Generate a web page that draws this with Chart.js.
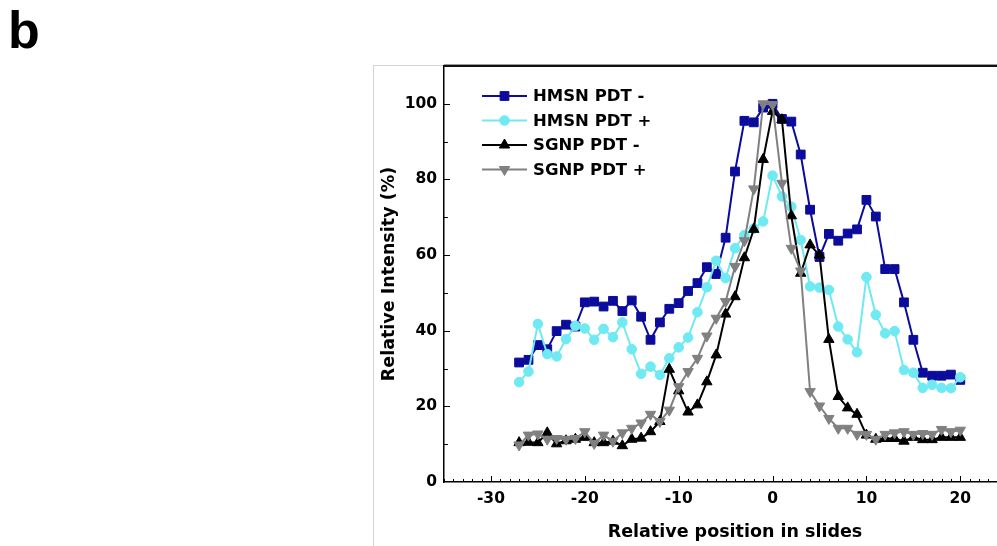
<!DOCTYPE html>
<html>
<head>
<meta charset="utf-8">
<script src="https://cdn.jsdelivr.net/npm/chart.js@4/dist/chart.umd.min.js"></script>
<style>
  html, body { margin: 0; padding: 0; background: #fff; overflow: hidden; }
  #wrap { position: relative; width: 997px; height: 546px; overflow: hidden; }
  #panel-label { position: absolute; left: 8px; top: 0px; font: bold 52px "Liberation Sans", Arial, sans-serif; color: #000; }
  #panel { position: absolute; left: 373px; top: 65px; width: 700px; height: 500px; border-left: 1px solid #d4d4d4; border-top: 1px solid #d4d4d4; }
  #chart { position: absolute; left: 0; top: 0; }
</style>
</head>
<body>
<div id="wrap">
  <div id="panel-label">b</div>
  <div id="panel"></div>
  <canvas id="chart" width="1034" height="546"></canvas>
</div>
<script>
// slide positions relative to the peak
var positions = [-27, -26, -25, -24, -23, -22, -21, -20, -19, -18, -17, -16, -15, -14, -13, -12,
  -11, -10, -9, -8, -7, -6, -5, -4, -3, -2, -1, 0, 1, 2, 3, 4,
  5, 6, 7, 8, 9, 10, 11, 12, 13, 14, 15, 16, 17, 18, 19, 20];

var hmsnMinus = [31.6, 32.3, 36.2, 35.1, 39.9, 41.6, 41.1, 47.5, 47.7, 46.4, 47.9, 45.2, 48.0, 43.7, 37.6, 42.2,
  45.8, 47.3, 50.5, 52.6, 56.8, 55.0, 64.6, 82.1, 95.5, 95.1, 99.0, 100.0, 96.0, 95.3, 86.6, 72.0,
  59.5, 65.6, 63.8, 65.7, 66.8, 74.6, 70.2, 56.3, 56.3, 47.5, 37.6, 28.9, 28.1, 28.1, 28.4, 27.0];

var hmsnPlus = [26.4, 29.2, 41.8, 33.8, 33.2, 37.8, 41.3, 40.6, 37.6, 40.5, 38.3, 42.2, 35.1, 28.6, 30.5, 28.3,
  32.7, 35.6, 38.2, 44.9, 51.5, 58.5, 53.9, 61.8, 65.3, 67.0, 68.9, 81.0, 75.5, 72.8, 64.0, 51.7,
  51.4, 50.8, 41.1, 37.7, 34.3, 54.2, 44.2, 39.3, 39.9, 29.6, 28.9, 24.9, 25.7, 24.9, 24.8, 27.7];

var sgnpMinus = [10.4, 10.5, 10.4, 13.0, 10.1, 10.9, 11.3, 11.8, 10.4, 10.4, 10.8, 9.6, 11.3, 11.6, 13.3, 16.0,
  29.8, 24.1, 18.5, 20.4, 26.5, 33.6, 44.4, 49.0, 59.3, 66.8, 85.3, 98.0, 95.8, 70.4, 55.2, 62.7,
  60.0, 37.7, 22.6, 19.6, 17.9, 12.4, 11.3, 11.5, 11.5, 10.8, 11.8, 11.2, 11.2, 11.8, 11.8, 11.8];

var sgnpPlus = [9.8, 12.4, 12.7, 11.3, 11.5, 11.3, 11.5, 13.3, 10.2, 12.4, 10.8, 13.0, 14.2, 15.6, 17.9, 16.0,
  19.0, 25.2, 29.2, 32.7, 38.6, 43.3, 47.7, 57.0, 63.8, 77.5, 100.0, 99.8, 79.0, 61.8, 55.8, 23.9,
  20.1, 16.8, 14.2, 14.2, 12.6, 12.6, 11.3, 12.6, 13.0, 13.3, 12.6, 12.8, 12.6, 13.9, 13.3, 13.7];

var seriesNames = ['HMSN PDT -', 'HMSN PDT +', 'SGNP PDT -', 'SGNP PDT +'];
var seriesColours = ['#0b0b9c', '#6fe9f2', '#000000', '#808080'];

var xMin = -35, xMax = 27, yMin = 0, yMax = 110;

var FONT = '"DejaVu Sans", sans-serif';

function toPoints(values){
  return positions.map(function(p, i){ return {x: p, y: values[i]}; });
}

function makeSet(i, values, style, radius, rotation, order){
  return {
    label: seriesNames[i],
    data: toPoints(values),
    borderColor: seriesColours[i],
    backgroundColor: seriesColours[i],
    pointBackgroundColor: seriesColours[i],
    pointBorderColor: seriesColours[i],
    pointBorderWidth: 1,
    borderWidth: 2,
    pointStyle: style,
    pointRadius: radius,
    pointRotation: rotation,
    tension: 0,
    order: order
  };
}

var datasets = [
  makeSet(0, hmsnMinus, 'rect', 6.2, 0, 3),
  makeSet(1, hmsnPlus, 'circle', 4.8, 0, 2),
  makeSet(2, sgnpMinus, 'triangle', 6, 0, 1),
  makeSet(3, sgnpPlus, 'triangle', 6, 180, 0)
];

// inward ticks + top frame line, like the origin plot
var frameTicks = {
  id: 'frameTicks',
  afterDraw: function(chart){
    var ctx = chart.ctx;
    var a = chart.chartArea;
    var xs = chart.scales.x;
    var ys = chart.scales.y;
    ctx.save();
    ctx.strokeStyle = '#000';
    ctx.lineWidth = 1;
    for (var v = xMin; v <= xMax; v++){
      var px = Math.round(xs.getPixelForValue(v)) + 0.5;
      var len = (v % 10 === 0) ? 6 : 3;
      ctx.beginPath();
      ctx.moveTo(px, a.bottom);
      ctx.lineTo(px, a.bottom - len);
      ctx.stroke();
    }
    for (var w = 10; w <= 100; w += 10){
      var py = Math.round(ys.getPixelForValue(w)) + 0.5;
      var l = (w % 20 === 0) ? 6 : 4;
      ctx.beginPath();
      ctx.moveTo(a.left, py);
      ctx.lineTo(a.left + l, py);
      ctx.stroke();
    }
    // top frame
    ctx.strokeStyle = '#9a9a9a';
    ctx.beginPath();
    ctx.moveTo(a.left, a.top - 1.5);
    ctx.lineTo(a.right, a.top - 1.5);
    ctx.stroke();
    ctx.strokeStyle = '#111';
    ctx.lineWidth = 2;
    ctx.beginPath();
    ctx.moveTo(a.left, a.top);
    ctx.lineTo(a.right, a.top);
    ctx.stroke();
    ctx.restore();
  }
};

// legend: line segment with marker, then bold name
var lineLegend = {
  id: 'lineLegend',
  afterDraw: function(chart){
    var ctx = chart.ctx;
    var a = chart.chartArea;
    var x0 = a.left + 38, x1 = a.left + 83, tx = a.left + 89;
    ctx.save();
    ctx.font = 'bold 16.5px ' + FONT;
    ctx.textBaseline = 'middle';
    chart.data.datasets.forEach(function(ds, i){
      var y = a.top + 30 + i * 24.5;
      ctx.strokeStyle = ds.borderColor;
      ctx.lineWidth = 2;
      ctx.beginPath();
      ctx.moveTo(x0, y);
      ctx.lineTo(x1, y);
      ctx.stroke();
      ctx.fillStyle = ds.backgroundColor;
      ctx.strokeStyle = ds.borderColor;
      ctx.lineWidth = 1;
      Chart.helpers.drawPoint(ctx, {pointStyle: ds.pointStyle, rotation: ds.pointRotation, borderWidth: 1, radius: ds.pointRadius}, (x0 + x1) / 2, y);
      ctx.fillStyle = '#000';
      ctx.fillText(ds.label, tx, y + 1);
    });
    ctx.restore();
  }
};

new Chart(document.getElementById('chart'), {
  type: 'line',
  data: {datasets: datasets},
  options: {
    responsive: false,
    animation: false,
    layout: {padding: {left: 373, top: 66, right: 0, bottom: 0}},
    plugins: {legend: {display: false}, tooltip: {enabled: false}},
    scales: {
      x: {
        type: 'linear',
        min: xMin,
        max: xMax,
        grid: {display: false, drawTicks: false},
        border: {display: true, color: '#000', width: 1.5},
        afterFit: function(s){ s.height = 64; },
        ticks: {
          stepSize: 10,
          padding: 8,
          color: '#000',
          font: {family: FONT, size: 15.5, weight: 'bold'},
          callback: function(v){ return (v % 10 === 0 && v >= -30 && v <= 20) ? String(v) : ''; }
        },
        title: {
          display: true,
          text: 'Relative position in slides',
          color: '#000',
          font: {family: FONT, size: 17.5, weight: 'bold'},
          padding: {top: 0, bottom: 3}
        }
      },
      y: {
        min: yMin,
        max: yMax,
        grid: {display: false, drawTicks: false},
        border: {display: true, color: '#000', width: 1.5},
        afterFit: function(s){ s.width = 71; },
        ticks: {
          stepSize: 10,
          padding: 7,
          color: '#000',
          font: {family: FONT, size: 15.5, weight: 'bold'},
          callback: function(v){ return (v % 20 === 0 && v <= 100) ? String(v) : ''; }
        },
        title: {
          display: true,
          text: 'Relative Intensity (%)',
          color: '#000',
          font: {family: FONT, size: 17.5, weight: 'bold'},
          padding: {top: 6, bottom: 0}
        }
      }
    }
  },
  plugins: [frameTicks, lineLegend]
});
</script>
</body>
</html>
